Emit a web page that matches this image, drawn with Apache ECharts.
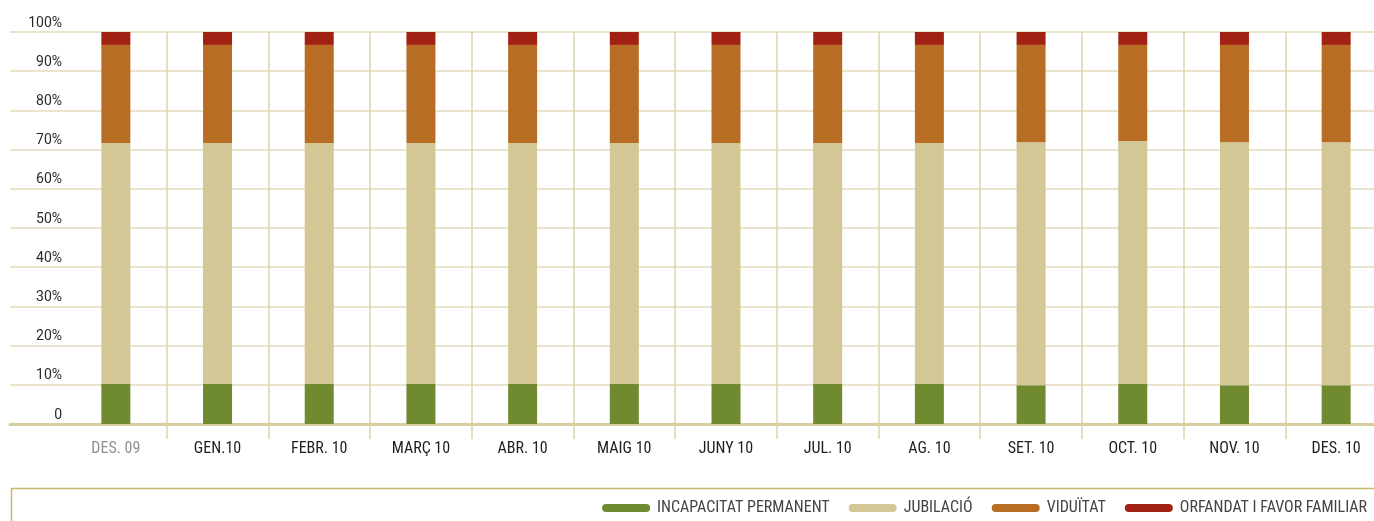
<!DOCTYPE html>
<html>
<head>
<meta charset="utf-8">
<script src="https://cdn.jsdelivr.net/npm/echarts@6/dist/echarts.min.js"></script>
<style>
html,body{margin:0;padding:0;background:#fff;}
#chart{width:1374px;height:521px;}
</style>
</head>
<body>
<div id="chart"></div>
<script>
const categories = ['DES. 09','GEN.10','FEBR. 10','MARÇ 10','ABR. 10','MAIG 10','JUNY 10','JUL. 10','AG. 10','SET. 10','OCT. 10','NOV. 10','DES. 10'];
const incapacitat = [10.2,10.2,10.2,10.2,10.2,10.2,10.2,10.2,10.2,9.9,10.2,9.9,9.9];
const jubilacio   = [61.5,61.5,61.5,61.5,61.5,61.5,61.5,61.5,61.5,62.0,62.0,62.0,62.0];
const viduitat    = [25.0,25.0,25.0,25.0,25.0,25.0,25.0,25.0,25.0,24.8,24.5,24.8,24.8];
const orfandat    = [3.3,3.3,3.3,3.3,3.3,3.3,3.3,3.3,3.3,3.3,3.3,3.3,3.3];
const seriesNames = ['INCAPACITAT PERMANENT','JUBILACIÓ','VIDUÏTAT','ORFANDAT I FAVOR FAMILIAR'];
const colors = ['#6f8a2f','#d3c795','#b86d24','#a12212'];

const chart = echarts.init(document.getElementById('chart'), null, {renderer:'canvas'});
const condensed = '"Liberation Sans Narrow", "Roboto Condensed", "Arial Narrow", Roboto, sans-serif';
const pill = 'path://M4,0 H44 A4,4 0 0 1 44,8 H4 A4,4 0 0 1 4,0 Z';

const mk = (name, data, i) => ({
  name, type:'bar', stack:'total', data,
  xAxisIndex:1, yAxisIndex:1,
  barWidth:29,
  itemStyle:{color:colors[i]}
});

chart.setOption({
  animation:false,
  backgroundColor:'#fff',
  graphic:[{
    type:'rect', left:9, top:486,
    shape:{width:1400, height:100},
    style:{fill:'none', stroke:'#c9b96c', lineWidth:1.5},
    silent:true
  }],
  grid:[
    {left:10, right:0, top:32, bottom:97, containLabel:false, outerBoundsMode:'none'},
    {left:65, width:1322, top:32, bottom:97, containLabel:false, outerBoundsMode:'none'}
  ],
  xAxis:[
    {type:'value', gridIndex:0, min:0, max:1, show:true,
      axisLine:{show:true, lineStyle:{color:'#d8cd9f', width:3}},
      axisTick:{show:false}, axisLabel:{show:false}, splitLine:{show:false}},
    {type:'category', gridIndex:1, data:categories, boundaryGap:true,
      axisLine:{show:false},
      axisTick:{show:true, length:15, interval:(i)=>i>0, lineStyle:{color:'#ddd3ab', width:1.5}},
      splitLine:{show:true, showMinLine:false, lineStyle:{color:'#ddd3ab', width:1.5}},
      axisLabel:{
        margin:17, fontFamily:condensed, fontSize:16, fontWeight:'normal',
        color:(v, i)=> i===0 ? '#8f8f8f' : '#1e1e1e'
      }}
  ],
  yAxis:[
    {type:'value', gridIndex:0, min:0, max:100, interval:10,
      axisLine:{show:false}, axisTick:{show:false},
      splitLine:{show:true, lineStyle:{color:'#ebe4cd', width:2}},
      axisLabel:{inside:true, margin:52, align:'right', verticalAlign:'bottom',
        padding:[0,0,2,0],
        fontFamily:'Roboto, "DejaVu Sans", sans-serif', fontSize:14, color:'#2a2a2a',
        formatter:(v)=> v===0 ? '0' : v+'%'}},
    {type:'value', gridIndex:1, min:0, max:100, interval:10, show:false,
      splitLine:{show:false}}
  ],
  legend:{
    right:2, top:495,
    icon:pill, itemWidth:48, itemHeight:8, itemGap:19,
    textStyle:{fontFamily:condensed, fontSize:16, color:'#444', padding:[0,0,0,2]},
    data:seriesNames
  },
  series:[
    mk(seriesNames[0], incapacitat, 0),
    mk(seriesNames[1], jubilacio, 1),
    mk(seriesNames[2], viduitat, 2),
    mk(seriesNames[3], orfandat, 3)
  ]
});
</script>
</body>
</html>
